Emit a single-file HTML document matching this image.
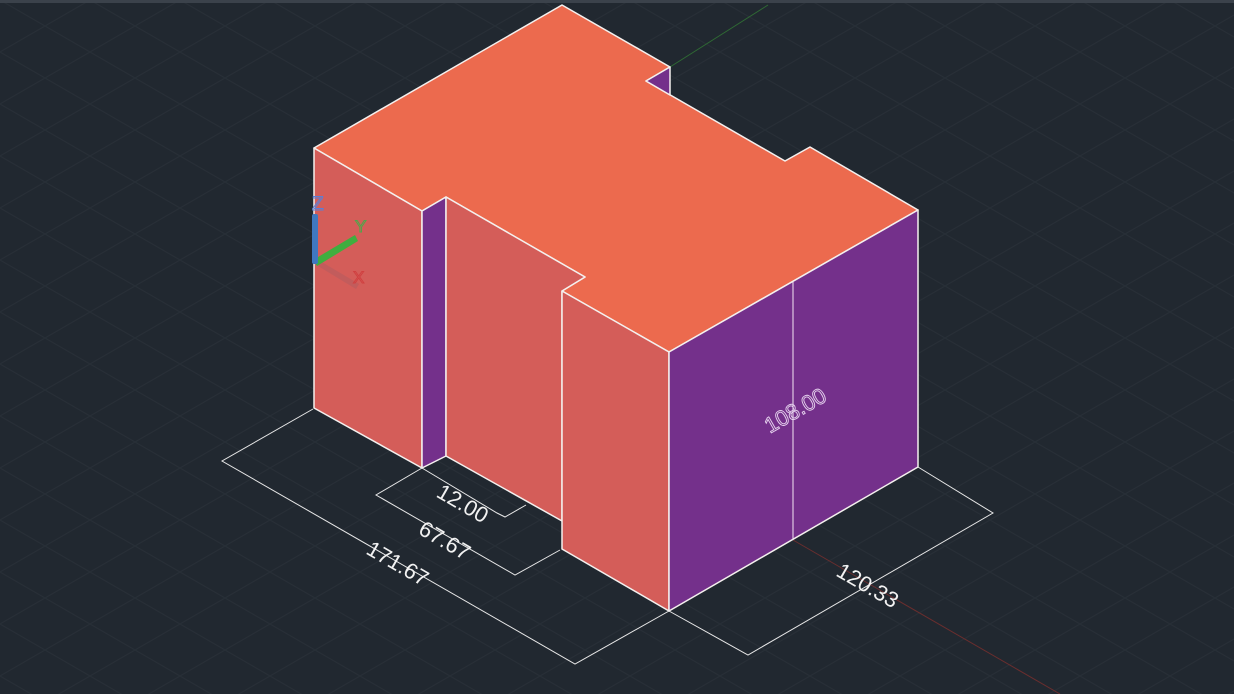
<!DOCTYPE html>
<html><head><meta charset="utf-8"><style>
html,body{margin:0;padding:0;background:#212830;}
svg{display:block;}
text{font-family:"Liberation Sans",sans-serif;}
</style></head><body>
<svg width="1234" height="694" viewBox="0 0 1234 694">
<defs>
<pattern id="grid" patternUnits="userSpaceOnUse" width="90" height="52">
<path d="M0,0 L90,52 M0,52 L90,0 M-45,26 L45,78 M45,-26 L135,26 M-45,26 L45,-26 M45,78 L135,26" stroke="#282f37" stroke-width="1" fill="none"/>
</pattern>
</defs>
<rect width="1234" height="694" fill="#212830"/>
<rect width="1234" height="694" fill="url(#grid)"/>
<rect width="1234" height="3" fill="#3b424b"/>
<line x1="670" y1="67" x2="768" y2="5" stroke="#2f6a34" stroke-width="1"/>
<line x1="793" y1="540" x2="1060" y2="694" stroke="#6a2e2e" stroke-width="1"/>

<g stroke="#f4f0ee" stroke-width="1.5" stroke-linejoin="round">
<polygon points="314,148 562,5 670,67 646,81 785,161 810,147 918,210 669,352 562,291 585,277 446,197 422,211" fill="#ec6a4e"/>
<polygon points="646,81 670,67 670,95" fill="#74308b"/>
<polygon points="314,148 422,211 422,468 314,408" fill="#d45d59"/>
<polygon points="422,211 446,197 446,456 422,468" fill="#74308b"/>
<polygon points="446,197 585,277 562,291 562,521 446,456" fill="#d45d59"/>
<polygon points="562,291 669,352 669,611 562,549" fill="#d45d59"/>
<polygon points="669,352 918,210 918,467 669,611" fill="#74308b"/>
</g>

<g stroke="#e8e8e8" stroke-width="1" fill="none">
<path d="M313,409 L222,461 L575,664 L669,611"/>
<path d="M422,468 L376,495 L515,575 L560,550"/>
<path d="M422,468 L497,513 L505,517 L526,505"/>
<path d="M669,611 L748,655 L993,513 L918,467"/>
<path d="M793,282 L793,540" stroke="#f3e6f3"/>
</g>
<g fill="#f2f2f2" font-size="22">
<text x="398" y="571" text-anchor="middle" transform="rotate(30 398 563)">171.67</text>
<text x="445" y="548" text-anchor="middle" transform="rotate(30 445 540)">67.67</text>
<text x="463" y="511" text-anchor="middle" transform="rotate(30 463 503)">12.00</text>
<text x="868" y="593" text-anchor="middle" transform="rotate(30 868 585)">120.33</text>
<text x="795" y="418" text-anchor="middle" transform="rotate(-30 795 410)" fill="none" stroke="#e6d2ee" stroke-width="0.9">108.00</text>
</g>

<g>
<polygon points="315,261 318,266 356,289 359,284 320,261" fill="#c25c5c"/>
<polygon points="313,260 317,266 358,241 355,235" fill="#3fae3f"/>
<rect x="312" y="214" width="6" height="50" rx="2" fill="#3f78c0"/>
<text x="312" y="210" font-size="19" fill="none" stroke="#5a7fd6" stroke-width="1">Z</text>
<text x="355" y="232" font-size="17" fill="none" stroke="#4fa64a" stroke-width="1">Y</text>
<text x="353" y="283" font-size="17" fill="none" stroke="#d04040" stroke-width="1">X</text>
</g>
</svg>
</body></html>
